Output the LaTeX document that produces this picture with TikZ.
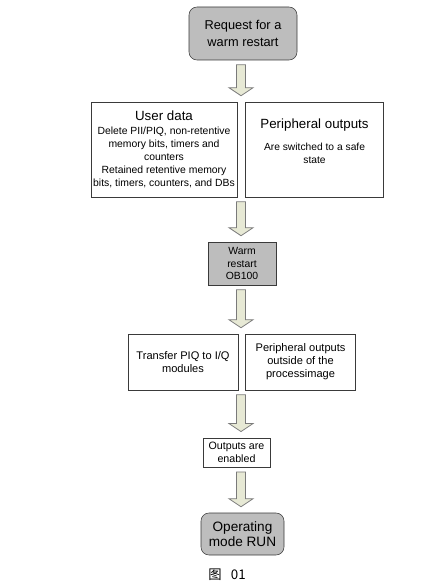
\documentclass[tikz,border=0pt]{standalone}
\usepackage{fontspec}
\setmainfont{Liberation Sans}
\newfontfamily\cjk{Noto Sans CJK SC}
\usepackage{xcolor}
\usetikzlibrary{calc,positioning}

\definecolor{boxgray}{HTML}{BDBDBD}
\definecolor{boxline}{HTML}{3A3A3A}
\definecolor{arrowfill}{HTML}{E7E9D5}
\definecolor{arrowline}{HTML}{7A7A7A}

% block arrow between two nodes, on the common axis
\newcommand{\flowarrow}[2]{%
  \draw[flow] let \p1=($(#1.south)+(0,4.5)$), \p2=($(#2.north)+(0,-6)$), \p3=(axis) in
    (\x3-3.4pt,\y1) -- (\x3+3.4pt,\y1) -- (\x3+3.4pt,\y2+6pt) -- (\x3+9pt,\y2+6pt)
    -- (\x3,\y2) -- (\x3-9pt,\y2+6pt) -- (\x3-3.4pt,\y2+6pt) -- cycle;}

\begin{document}
\begin{tikzpicture}[x=0.75pt,y=-0.75pt,
    terminal/.style={draw=boxline,fill=boxgray,rounded corners=6pt,align=center,inner sep=1pt},
    block/.style={draw=boxline,fill=boxgray,align=center,inner sep=1pt},
    box/.style={draw=boxline,fill=white,align=center,inner sep=1pt},
    flow/.style={draw=arrowline,fill=arrowfill,line width=0.6pt,line join=miter}]
  \useasboundingbox (0,0) rectangle (445,584);
  \coordinate (axis) at (241,0);

  \node[terminal,minimum width=81pt,minimum height=39.75pt,
        font=\fontsize{9.6}{12.75}\selectfont] (req) at (243,33.5) {Request for a\\warm restart};

  \node[box,minimum width=109.5pt,minimum height=71.25pt,
        font=\fontsize{7.8}{9.75}\selectfont] (ud) at (164,149.5)
        {{\fontsize{10}{12}\selectfont User data}\\[0.5pt]
         Delete PII/PIQ, non-retentive\\memory bits, timers and\\counters\\
         Retained retentive memory\\bits, timers, counters, and DBs};
  \node[box,minimum width=103.5pt,minimum height=71.25pt,
        font=\fontsize{7.7}{9.75}\selectfont,right=6pt of ud] (po)
        {{\fontsize{10}{12}\selectfont Peripheral outputs}\\[7pt]
         Are switched to a safe\\state\\[3pt]};

  \node[block,minimum width=51pt,minimum height=32.25pt,
        font=\fontsize{7.8}{9.2}\selectfont] (wr) at (242,263.5) {Warm\\restart\\OB100};

  \node[box,minimum width=82.5pt,minimum height=42pt,
        font=\fontsize{8.3}{9.75}\selectfont] (tr) at (183,362) {Transfer PIQ to I/Q\\modules};
  \node[box,minimum width=82.5pt,minimum height=42pt,
        font=\fontsize{8.3}{9.75}\selectfont,right=5.25pt of tr] (pe)
        {Peripheral outputs\\outside of the\\processimage};

  \node[box,minimum width=50pt,minimum height=22pt,
        font=\fontsize{8}{9.5}\selectfont] (oe) at (236.5,452.5) {Outputs are\\enabled};

  \node[terminal,minimum width=62.25pt,minimum height=31.5pt,
        font=\fontsize{10.2}{11.2}\selectfont] (run) at (242.5,534) {Operating\\mode RUN};

  \node[font=\fontsize{10}{12}\selectfont] (cap) at (227,575) {\cjk 图\hspace{7pt}01};

  \flowarrow{req}{ud}
  \flowarrow{ud}{wr}
  \flowarrow{wr}{tr}
  \flowarrow{tr}{oe}
  \flowarrow{oe}{run}
\end{tikzpicture}
\end{document}
